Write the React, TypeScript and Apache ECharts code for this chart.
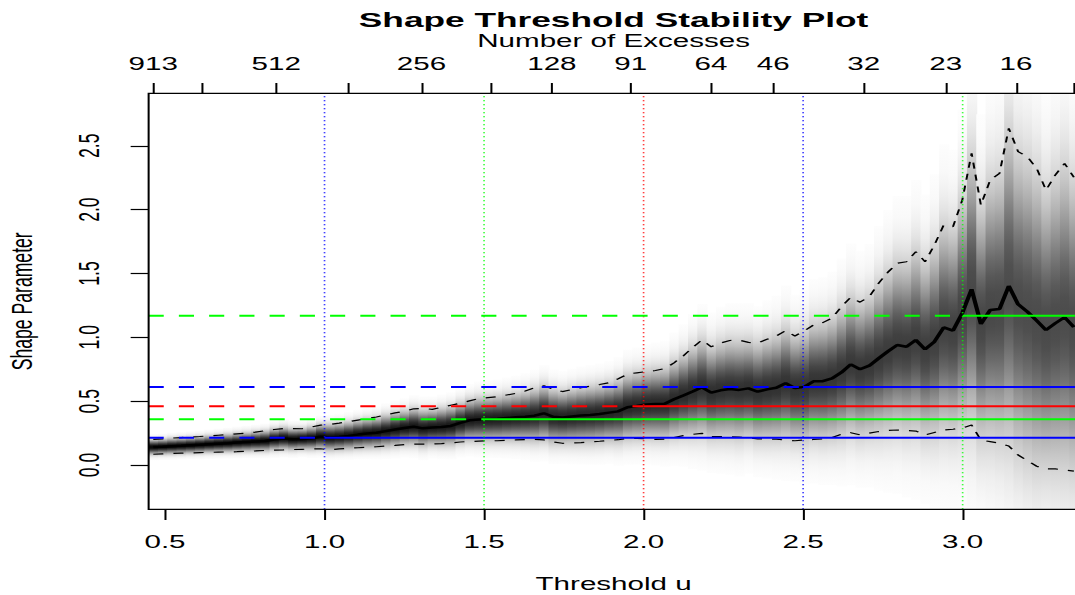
import React, { useEffect, useRef } from 'react';
import * as echarts from 'echarts';

// Thresholds u (one column of the density image per threshold)
const thresholds = [
  0.4633, 0.4924, 0.5216, 0.5507, 0.5799, 0.6090, 0.6382, 0.6673, 0.6965, 0.7256,
  0.7548, 0.7839, 0.8130, 0.8422, 0.8713, 0.9005, 0.9296, 0.9588, 0.9879, 1.0171,
  1.0462, 1.0753, 1.1045, 1.1336, 1.1628, 1.1919, 1.2211, 1.2502, 1.2794, 1.3085,
  1.3377, 1.3668, 1.3959, 1.4251, 1.4542, 1.4834, 1.5125, 1.5417, 1.5708, 1.6000,
  1.6291, 1.6582, 1.6874, 1.7165, 1.7457, 1.7748, 1.8040, 1.8331, 1.8623, 1.8914,
  1.9206, 1.9497, 1.9788, 2.0080, 2.0371, 2.0663, 2.0954, 2.1246, 2.1537, 2.1829,
  2.2120, 2.2411, 2.2703, 2.2994, 2.3286, 2.3577, 2.3869, 2.4160, 2.4452, 2.4743,
  2.5035, 2.5326, 2.5617, 2.5909, 2.6200, 2.6492, 2.6783, 2.7075, 2.7366, 2.7658,
  2.7949, 2.8240, 2.8532, 2.8823, 2.9115, 2.9406, 2.9698, 2.9989, 3.0281, 3.0572,
  3.0864, 3.1155, 3.1446, 3.1738, 3.2029, 3.2321, 3.2612, 3.2904, 3.3195, 3.3487,
];

const shapeEst = [
  0.140, 0.143, 0.147, 0.150, 0.154, 0.158, 0.163, 0.167, 0.171, 0.176,
  0.180, 0.184, 0.188, 0.200, 0.208, 0.201, 0.204, 0.209, 0.221, 0.215,
  0.220, 0.228, 0.238, 0.246, 0.252, 0.265, 0.278, 0.290, 0.300, 0.287,
  0.294, 0.298, 0.306, 0.330, 0.350, 0.356, 0.359, 0.362, 0.368, 0.373,
  0.378, 0.386, 0.405, 0.378, 0.372, 0.380, 0.387, 0.392, 0.399, 0.410,
  0.420, 0.452, 0.462, 0.474, 0.478, 0.480, 0.515, 0.545, 0.575, 0.608,
  0.566, 0.585, 0.595, 0.588, 0.600, 0.574, 0.592, 0.605, 0.640, 0.602,
  0.612, 0.655, 0.656, 0.678, 0.725, 0.788, 0.750, 0.778, 0.835, 0.890,
  0.940, 0.926, 0.979, 0.906, 0.966, 1.078, 1.052, 1.190, 1.376, 1.104,
  1.214, 1.222, 1.402, 1.258, 1.200, 1.130, 1.057, 1.110, 1.157, 1.080,
];

const shapeUpper = [
  0.200, 0.204, 0.211, 0.215, 0.219, 0.223, 0.228, 0.233, 0.238, 0.244,
  0.250, 0.258, 0.268, 0.278, 0.286, 0.285, 0.284, 0.298, 0.312, 0.318,
  0.328, 0.340, 0.352, 0.364, 0.376, 0.392, 0.408, 0.420, 0.440, 0.443,
  0.436, 0.452, 0.468, 0.484, 0.502, 0.520, 0.528, 0.535, 0.548, 0.561,
  0.580, 0.605, 0.620, 0.595, 0.575, 0.590, 0.605, 0.618, 0.630, 0.644,
  0.675, 0.712, 0.722, 0.731, 0.740, 0.755, 0.800, 0.855, 0.920, 0.979,
  0.926, 0.955, 0.975, 0.978, 0.960, 0.955, 0.985, 1.010, 1.052, 1.010,
  1.050, 1.096, 1.115, 1.150, 1.240, 1.313, 1.275, 1.318, 1.423, 1.510,
  1.580, 1.592, 1.670, 1.592, 1.723, 1.879, 1.866, 2.075, 2.441, 2.036,
  2.232, 2.284, 2.637, 2.454, 2.414, 2.323, 2.153, 2.271, 2.362, 2.253,
];

const shapeLower = [
  0.084, 0.087, 0.090, 0.093, 0.095, 0.097, 0.099, 0.101, 0.102, 0.104,
  0.107, 0.110, 0.114, 0.116, 0.118, 0.121, 0.123, 0.125, 0.127, 0.118,
  0.126, 0.131, 0.135, 0.139, 0.143, 0.148, 0.153, 0.160, 0.164, 0.164,
  0.164, 0.168, 0.173, 0.180, 0.184, 0.187, 0.189, 0.190, 0.193, 0.196,
  0.199, 0.201, 0.196, 0.180, 0.170, 0.172, 0.175, 0.180, 0.186, 0.193,
  0.198, 0.208, 0.208, 0.205, 0.201, 0.203, 0.215, 0.230, 0.240, 0.248,
  0.222, 0.222, 0.222, 0.218, 0.212, 0.205, 0.204, 0.202, 0.195, 0.190,
  0.196, 0.200, 0.204, 0.215, 0.240, 0.253, 0.236, 0.250, 0.262, 0.270,
  0.274, 0.270, 0.266, 0.235, 0.255, 0.274, 0.280, 0.290, 0.313, 0.195,
  0.183, 0.170, 0.149, 0.078, 0.034, -0.010, -0.031, -0.031, -0.040, -0.048,
];

// Top axis: number of excesses
const excessTickU = [0.4633, 0.6185, 0.8485, 1.0729, 1.3038, 1.5210, 1.7125, 1.9594, 2.2111, 2.4063, 2.6902, 2.9472, 3.1672, 3.3471];
const excessCounts = [913, 724, 512, 362, 256, 181, 128, 91, 64, 46, 32, 23, 16, 11];
const excessLabelled = [913, 512, 256, 128, 91, 64, 46, 32, 23, 16];

// Bottom / left tick labels
const xTicks = [0.5, 1.0, 1.5, 2.0, 2.5, 3.0];
const yTicks = [0.0, 0.5, 1.0, 1.5, 2.0, 2.5];

// Selected thresholds and their reference shape lines
const selectedU = [1.0, 1.5, 2.0, 2.5, 3.0];
const selectedShape = [0.214, 0.358, 0.460, 0.611, 1.169];
const selectedColor = ['#0000ff', '#00ff00', '#ff0000', '#0000ff', '#00ff00'];

const X_MIN = 0.4487;
const X_MAX = 3.3633;
const Y_MIN = -0.347;
const Y_MAX = 2.911;

const SX = 1.68;
const W = 642;
const H = 595;
const FONT = "'Liberation Sans', Arial, Helvetica, sans-serif";

function columnFill(sd: number) {
  const d = Math.min(0.97, Math.max(0.6, 0.66 - 0.095 * Math.log(sd)));
  const stops: { offset: number; color: string }[] = [];
  const N = 28;
  for (let k = 0; k <= N; k++) {
    const z = 3.5 - (7 * k) / N;
    const g = 1 - d * Math.exp(-(z * z) / (2 * 1.15 * 1.15));
    const c = Math.round(255 * g);
    stops.push({ offset: k / N, color: `rgb(${c},${c},${c})` });
  }
  return new echarts.graphic.LinearGradient(0, 0, 0, 1, stops);
}

export default function App() {
  const ref = useRef<HTMLDivElement>(null);

  useEffect(() => {
    if (!ref.current) return;
    const chart = echarts.init(ref.current, null, { renderer: 'svg' });
    const n = thresholds.length;
    const axisText = { fontSize: 17.6, color: '#000', fontFamily: FONT };

    const series: any[] = [];

    series.push({
      type: 'custom',
      xAxisIndex: 0,
      yAxisIndex: 0,
      z: 1,
      clip: true,
      silent: true,
      data: thresholds.map((u, i) => [u, shapeEst[i], shapeLower[i], shapeUpper[i]]),
      encode: { x: 0, y: 1 },
      renderItem: (params: any, api: any) => {
        const i = params.dataIndex;
        const u = thresholds[i];
        const prev = i > 0 ? thresholds[i - 1] : 2 * u - thresholds[i + 1];
        const next = i < n - 1 ? thresholds[i + 1] : 2 * u - thresholds[i - 1];
        const left = (prev + u) / 2;
        const right = (u + next) / 2;
        const est = api.value(1);
        const lo = api.value(2);
        const hi = api.value(3);
        const sd = (hi - lo) / 3.92;
        const p0 = api.coord([left, est + 3.5 * sd]);
        const p1 = api.coord([right, est - 3.5 * sd]);
        return {
          type: 'rect',
          shape: { x: p0[0], y: p0[1], width: p1[0] - p0[0] + 0.6, height: p1[1] - p0[1] },
          style: { fill: columnFill(sd) },
        };
      },
    });

    const lineBase = { type: 'line', symbol: 'none', showSymbol: false, silent: true, xAxisIndex: 0, yAxisIndex: 0 };

    series.push({
      ...lineBase,
      z: 2,
      data: thresholds.map((u, i) => [u, shapeUpper[i]]),
      lineStyle: { color: '#000', width: 1.2, type: [6, 6] },
    });
    series.push({
      ...lineBase,
      z: 2,
      data: thresholds.map((u, i) => [u, shapeLower[i]]),
      lineStyle: { color: '#000', width: 1.2, type: [6, 6] },
    });
    series.push({
      ...lineBase,
      z: 2,
      data: thresholds.map((u, i) => [u, shapeEst[i]]),
      lineStyle: { color: '#000', width: 2.5, type: 'solid' },
    });

    selectedU.forEach((u, k) => {
      series.push({
        ...lineBase,
        z: 3,
        data: [[X_MIN, selectedShape[k]], [u, selectedShape[k]]],
        lineStyle: { color: selectedColor[k], width: 2, type: [9, 9] },
      });
      series.push({
        ...lineBase,
        z: 3,
        data: [[u, selectedShape[k]], [X_MAX, selectedShape[k]]],
        lineStyle: { color: selectedColor[k], width: 2, type: 'solid' },
      });
      series.push({
        ...lineBase,
        z: 3,
        data: [[u, Y_MIN], [u, Y_MAX]],
        lineStyle: { color: selectedColor[k], width: 1, type: [1, 3] },
      });
    });

    const labelledU = excessTickU.filter((_, j) => excessLabelled.indexOf(excessCounts[j]) >= 0);

    chart.setOption({
      animation: false,
      backgroundColor: '#ffffff',
      textStyle: { fontFamily: FONT },
      title: {
        text: 'Shape Threshold Stability Plot',
        left: 365.2,
        top: 9,
        padding: 0,
        textAlign: 'center',
        textStyle: { fontSize: 21, fontWeight: 'bold', color: '#000', fontFamily: FONT },
      },
      grid: {
        left: 88.47,
        right: 0,
        top: 93.3,
        bottom: 85.7,
        containLabel: false,
        outerBoundsMode: 'none',
        show: true,
        z: 10,
        backgroundColor: 'transparent',
        borderColor: '#000',
        borderWidth: 1.2,
      },
      xAxis: [
        {
          type: 'value',
          position: 'bottom',
          min: X_MIN,
          max: X_MAX,
          z: 10,
          splitLine: { show: false },
          axisLine: { show: false, onZero: false },
          axisTick: { show: true, inside: false, customValues: xTicks, length: 10.7, lineStyle: { color: '#000', width: 1.2 } },
          axisLabel: { customValues: xTicks, formatter: (v: number) => v.toFixed(1), margin: 23.6, ...axisText },
          name: 'Threshold u',
          nameLocation: 'middle',
          nameGap: 65.8,
          nameTextStyle: axisText,
        },
        {
          type: 'value',
          position: 'top',
          min: X_MIN,
          max: X_MAX,
          z: 10,
          splitLine: { show: false },
          axisLine: { show: false, onZero: false },
          axisTick: { show: true, inside: false, customValues: excessTickU, length: 10.3, lineStyle: { color: '#000', width: 1.2 } },
          axisLabel: {
            customValues: labelledU,
            formatter: (v: number) => {
              let best = 0;
              for (let j = 1; j < excessTickU.length; j++) {
                if (Math.abs(excessTickU[j] - v) < Math.abs(excessTickU[best] - v)) best = j;
              }
              return String(excessCounts[best]);
            },
            margin: 20.9,
            ...axisText,
          },
          name: 'Number of Excesses',
          nameLocation: 'middle',
          nameGap: 43.5,
          nameTextStyle: axisText,
        },
      ],
      yAxis: {
        type: 'value',
        min: Y_MIN,
        max: Y_MAX,
        z: 10,
        splitLine: { show: false },
        axisLine: { show: false, onZero: false },
        axisTick: { show: true, inside: false, customValues: yTicks, length: 10.7, lineStyle: { color: '#000', width: 1.2 } },
        axisLabel: { customValues: yTicks, rotate: 90, formatter: (v: number) => v.toFixed(1), margin: 26.8, ...axisText },
        name: 'Shape Parameter',
        nameLocation: 'middle',
        nameGap: 66.3,
        nameTextStyle: axisText,
      },
      series,
    });

    return () => {
      chart.dispose();
    };
  }, []);

  return (
    <div
      style={{
        position: 'fixed',
        left: 0,
        top: 0,
        width: 1075,
        height: 595,
        overflow: 'hidden',
        background: '#ffffff',
      }}
    >
      <div
        ref={ref}
        style={{
          width: W,
          height: H,
          transform: `scaleX(${SX})`,
          transformOrigin: '0 0',
        }}
      />
    </div>
  );
}
